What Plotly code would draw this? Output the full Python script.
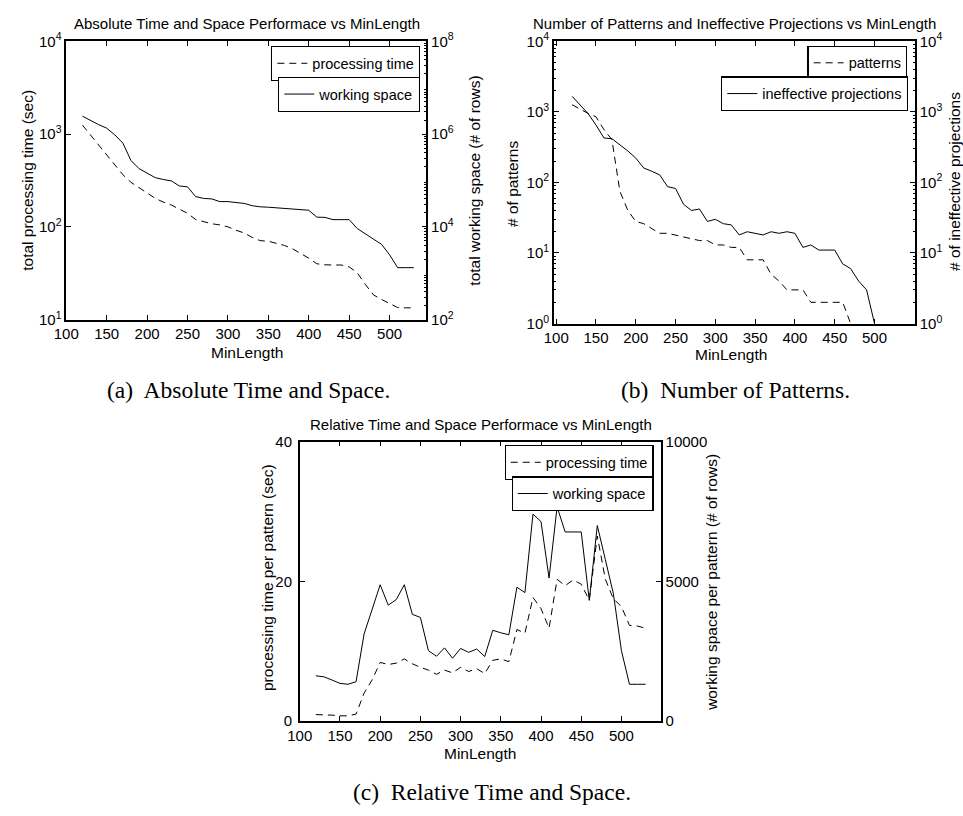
import plotly.graph_objects as go

# ---------------------------------------------------------------- data
min_length = [120, 130, 140, 150, 160, 170, 180, 190, 200, 210, 220, 230, 240, 250,
              260, 270, 280, 290, 300, 310, 320, 330, 340, 350, 360, 370, 380, 390,
              400, 410, 420, 430, 440, 450, 460, 470, 480, 490, 500, 510, 520, 530]

# (a) absolute cost
total_time_sec = [1250, 980, 770, 600, 470, 365, 302, 265, 232, 203, 185, 172, 155, 140,
                  120, 113, 108, 105, 100, 92, 86, 77, 71, 70, 67, 63, 58, 52,
                  46, 40, 39, 38.8, 38.8, 37, 32, 24, 18.5, 16.5, 14.8, 13.5, 13.4, 13.4]
total_space_rows = [2.43e6, 1.95e6, 1.6e6, 1.34e6, 9.6e5, 6.4e5, 2.7e5, 1.8e5, 1.45e5, 1.15e5,
                    1.05e5, 9.8e4, 7.6e4, 7.3e4, 4.5e4, 4.1e4, 4.0e4, 3.5e4, 3.5e4, 3.3e4,
                    3.2e4, 2.86e4, 2.7e4, 2.65e4, 2.58e4, 2.5e4, 2.42e4, 2.35e4, 2.28e4, 1.62e4,
                    1.6e4, 1.43e4, 1.43e4, 1.43e4, 9.2e3, 7.0e3, 5.5e3, 4.2e3, 2.5e3, 1.32e3,
                    1.32e3, 1.32e3]

# (b) counts; points lying on the floor of the log axis are left out
num_patterns = [1260, 1080, 950, 850, 560, 404, 75, 40, 28, 26, 22, 19, 19, 18,
                17, 16, 15, 15, 13, 13, 12, 12, 8, 8, 8, 5, 4, 3,
                3, 3, 2, 2, 2, 2, 2, 1, None, None, None, None, None, None]
num_ineffective = [1660, 1230, 946, 650, 426, 416, 345, 279, 221, 160, 144, 128, 87, 82,
                   49, 40, 42, 28, 30, 26, 25, 18, 20, 19, 18, 20, 19, 20,
                   19, 12, 13, 11, 11, 11, 7, 6, 4, 3, 1, None, None, None]

# (c) cost per pattern
time_per_pattern = [0.93, 0.93, 0.85, 0.75, 0.75, 1.0, 4.0, 5.9, 8.4, 8.1, 8.3, 8.9, 8.2, 7.7,
                    7.3, 6.7, 7.3, 6.9, 7.7, 7.1, 7.5, 6.8, 8.7, 8.9, 8.5, 13.1, 12.6, 17.7,
                    16.1, 13.3, 20.3, 19.4, 20.2, 19.6, 17.3, 26.5, 20.3, 17.5, 16.4, 13.7, 13.6, 13.3]
space_per_pattern = [1620, 1585, 1470, 1350, 1317, 1410, 3120, 4030, 4880, 4150, 4350, 4880, 3820, 3710,
                     2520, 2320, 2620, 2250, 2600, 2460, 2580, 2310, 3250, 3160, 3090, 4790, 4600, 7410,
                     7140, 5120, 7670, 6770, 6770, 6770, 4320, 7000, 5780, 4560, 2520, 1317, 1317, 1317]

# tick labels
x_ticks = [100, 150, 200, 250, 300, 350, 400, 450, 500]
a_left_vals = [1e1, 1e2, 1e3, 1e4]
a_left_text = ["10<sup>1</sup>", "10<sup>2</sup>", "10<sup>3</sup>", "10<sup>4</sup>"]
a_right_vals = [1e2, 1e4, 1e6, 1e8]
a_right_text = ["10<sup>2</sup>", "10<sup>4</sup>", "10<sup>6</sup>", "10<sup>8</sup>"]
b_vals = [1e0, 1e1, 1e2, 1e3, 1e4]
b_text = ["10<sup>0</sup>", "10<sup>1</sup>", "10<sup>2</sup>", "10<sup>3</sup>", "10<sup>4</sup>"]
c_left_vals = [0, 20, 40]
c_left_text = ["0", "20", "40"]
c_right_vals = [0, 5000, 10000]
c_right_text = ["0", "5000", "10000"]

# ---------------------------------------------------------------- layout helpers
W, H = 963, 816


def fx(p):
    return p / W


def fy(p):
    return 1 - p / H


FONT = "Liberation Sans, Arial, Helvetica, sans-serif"
DASH = "7px,5px"

fig = go.Figure()

traces = [
    (total_time_sec, "processing time", DASH, "x", "y", "legend"),
    (total_space_rows, "working space", "solid", "x", "y2", "legend2"),
    (num_patterns, "patterns", DASH, "x2", "y3", "legend3"),
    (num_ineffective, "ineffective projections", "solid", "x2", "y4", "legend4"),
    (time_per_pattern, "processing time", DASH, "x3", "y5", "legend5"),
    (space_per_pattern, "working space", "solid", "x3", "y6", "legend6"),
]
for vals, name, dash, xa, ya, lg in traces:
    fig.add_trace(go.Scatter(
        x=min_length, y=vals, name=name, mode="lines",
        line=dict(color="black", width=1, dash=dash),
        xaxis=xa, yaxis=ya, legend=lg, showlegend=True,
    ))

axis_style = dict(showline=True, linecolor="black", linewidth=1.5,
                  ticks="inside", ticklen=5, tickwidth=1, tickcolor="black",
                  showgrid=False, zeroline=False,
                  tickfont=dict(family=FONT, size=15, color="black"))


def decade_minors(lo, hi):
    return [m * 10 ** k for k in range(lo, hi) for m in range(2, 10)]


minor_style = dict(ticks="inside", ticklen=2.5, tickwidth=1, tickcolor="black", showgrid=False)

# panel (a)
dom_ax = [fx(54), fx(419)]
dom_ay = [fy(316), fy(31)]
# panel (b)
dom_bx = [fx(548.3), fx(914.3)]
dom_by = [fy(320), fy(31)]
# panel (c)
dom_cx = [fx(290.7), fx(656.7)]
dom_cy = [fy(727), fy(441)]

fig.update_layout(
    xaxis=dict(axis_style, domain=dom_ax, range=[100, 545.5], tickvals=x_ticks,
               mirror="ticks", anchor="y"),
    yaxis=dict(axis_style, domain=dom_ay, type="log", range=[1, 4],
               tickvals=a_left_vals, ticktext=a_left_text, mirror=True, anchor="x"),
    yaxis2=dict(axis_style, type="log", range=[2, 8], tickvals=a_right_vals,
                ticktext=a_right_text, overlaying="y", side="right", anchor="x",
                minor=dict(minor_style, tickvals=decade_minors(2, 8))),
    xaxis2=dict(axis_style, domain=dom_bx, range=[97.1, 550.8], tickvals=x_ticks,
                mirror="ticks", anchor="y3"),
    yaxis3=dict(axis_style, domain=dom_by, type="log", range=[0, 4],
                tickvals=b_vals, ticktext=b_text, mirror=True, anchor="x2",
                minor=dict(minor_style, tickvals=decade_minors(0, 4))),
    yaxis4=dict(axis_style, type="log", range=[0, 4], tickvals=b_vals, ticktext=b_text,
                overlaying="y3", side="right", anchor="x2",
                minor=dict(minor_style, tickvals=decade_minors(0, 4))),
    xaxis3=dict(axis_style, domain=dom_cx, range=[100, 549], tickvals=x_ticks,
                mirror="ticks", anchor="y5"),
    yaxis5=dict(axis_style, domain=dom_cy, range=[0, 40], tickvals=c_left_vals,
                ticktext=c_left_text, mirror=True, anchor="x3", ticklabelstandoff=3),
    yaxis6=dict(axis_style, range=[0, 10000], tickvals=c_right_vals,
                ticktext=c_right_text, overlaying="y5", side="right", anchor="x3"),
)

# one boxed legend per curve; y is the box top in page pixels
legend_style = dict(bgcolor="white", bordercolor="black", borderwidth=1.2,
                    font=dict(family=FONT, size=14.5, color="black"),
                    xanchor="right", yanchor="top", itemclick=False)
fig.update_layout(
    legend=dict(legend_style, x=fx(412.7), y=fy(36)),
    legend2=dict(legend_style, x=fx(412.7), y=fy(67.5)),
    legend3=dict(legend_style, x=fx(906.7), y=fy(35.5)),
    legend4=dict(legend_style, x=fx(907.3), y=fy(67)),
    legend5=dict(legend_style, x=fx(649.3), y=fy(444.5)),
    legend6=dict(legend_style, x=fx(649.3), y=fy(476.5)),
)

# titles, axis labels and sub-captions
texts = [
    ("Absolute Time and Space Performace vs MinLength", 237, 13, 0, 15),
    ("total processing time (sec)", 15, 173, -90, 15.5),
    ("total working space (# of rows)", 468, 174, -90, 15.5),
    ("MinLength", 237, 350, 0, 15.5),
    ("Number of Patterns and Ineffective Projections vs MinLength", 731.5, 13, 0, 15),
    ("# of patterns", 507, 177, -90, 15.5),
    ("# of ineffective projections", 955, 175, -90, 15.5),
    ("MinLength", 728, 352, 0, 15.5),
    ("Relative Time and Space Performace vs MinLength", 474, 423, 0, 15),
    ("processing time per pattern (sec)", 258, 580, -90, 15.5),
    ("working space per pattern (# of rows)", 708, 585, -90, 15.5),
    ("MinLength", 473, 760, 0, 15.5),
]
annotations = []
for txt, x, y, ang, size in texts:
    annotations.append(dict(text=txt, x=fx(x), y=fy(y), xref="paper", yref="paper",
                            xanchor="center", yanchor="middle", showarrow=False,
                            textangle=ang, font=dict(family=FONT, size=size, color="black")))

captions = [
    ("(a)\u00a0 Absolute Time and Space.", 238.5, 388),
    ("(b)\u00a0 Number of Patterns.", 732.5, 388),
    ("(c)\u00a0 Relative Time and Space.", 485.5, 800),
]
for txt, x, y in captions:
    annotations.append(dict(text=txt, x=fx(x), y=fy(y), xref="paper", yref="paper",
                            xanchor="center", yanchor="middle", showarrow=False,
                            font=dict(family="Liberation Serif, Times New Roman, serif",
                                      size=23.5, color="black")))

fig.update_layout(
    width=W, height=H,
    margin=dict(l=0, r=0, t=0, b=0),
    paper_bgcolor="white", plot_bgcolor="white",
    font=dict(family=FONT, size=15, color="black"),
    annotations=annotations,
)

fig.write_html("out.html", post_script="document.body.style.margin='0px';")
